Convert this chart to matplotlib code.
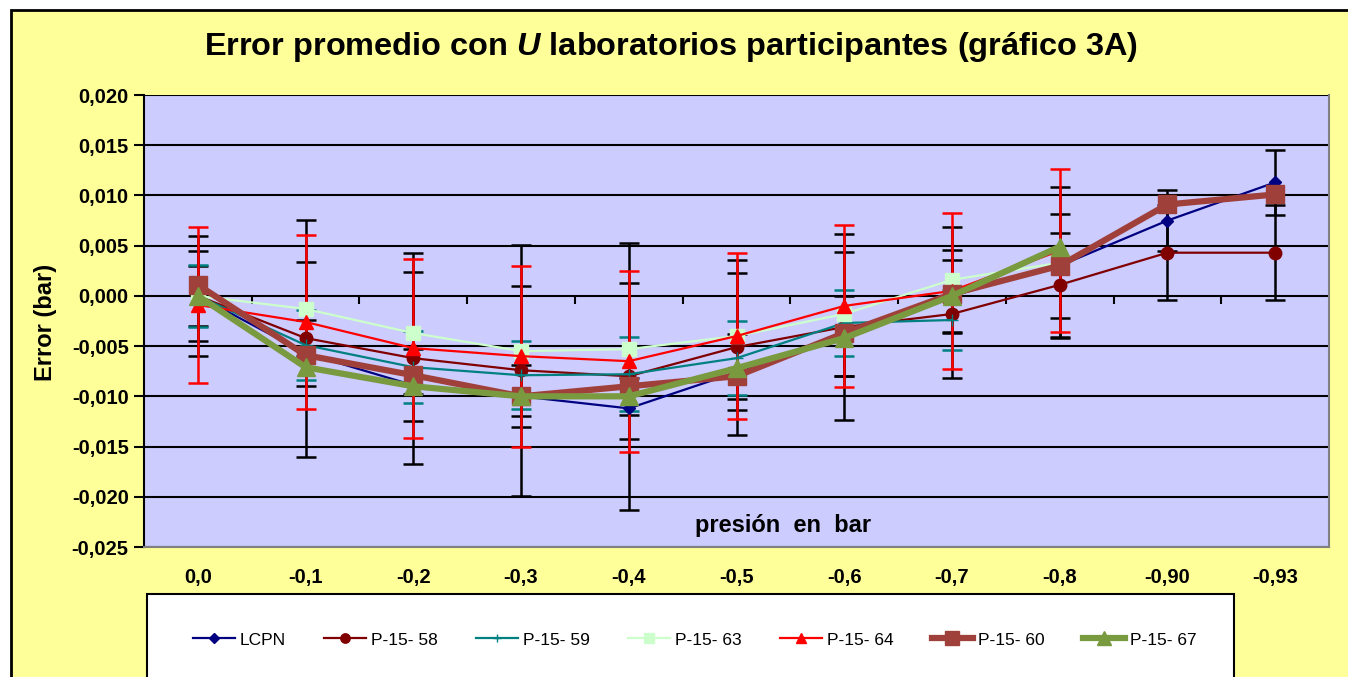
import numpy as np
import matplotlib
matplotlib.use("Agg")
import matplotlib.pyplot as plt
from matplotlib.patches import Rectangle

plt.rcParams['font.family'] = ['Liberation Sans', 'DejaVu Sans']
plt.rcParams['mathtext.fontset'] = 'custom'
plt.rcParams['mathtext.it'] = 'Liberation Sans:italic:bold'
plt.rcParams['mathtext.rm'] = 'Liberation Sans:bold'

# presion (bar) categories
cats = ['0,0', '-0,1', '-0,2', '-0,3', '-0,4', '-0,5', '-0,6', '-0,7', '-0,8', '-0,90', '-0,93']

# error medio por laboratorio (bar) y su incertidumbre U
lcpn = [0.0, -0.0057, -0.0089, -0.0100, -0.0112, -0.0076, -0.0040, 0.0000, 0.0030, 0.0075, 0.0113]
lcpn_u = [0.0030, 0.0033, 0.0036, 0.0031, 0.0030, 0.0038, 0.0040, 0.0036, 0.0052, 0.0030, 0.0032]
p58 = [0.0, -0.0042, -0.0062, -0.0074, -0.0080, -0.0051, -0.0031, -0.0018, 0.0011, 0.0043, 0.0043]
p58_u = [0.0060, 0.0118, 0.0105, 0.0125, 0.0133, 0.0087, 0.0093, 0.0064, 0.0052, 0.0047, 0.0047]
p59 = [0.0, -0.0049, -0.0071, -0.0079, -0.0078, -0.0062, -0.0027, -0.0024]
p59_u = [0.0031, 0.0035, 0.0036, 0.0034, 0.0037, 0.0037, 0.0033, 0.0030]
p63 = [0.0, -0.0013, -0.0037, -0.0055, -0.0053, -0.0040, -0.0018, 0.0016, 0.0033]
p63_u = [0.0045, 0.0047, 0.0061, 0.0065, 0.0066, 0.0063, 0.0062, 0.0053, 0.0075]
p64 = [-0.0009, -0.0026, -0.0052, -0.0060, -0.0065, -0.0040, -0.0010, 0.0005, 0.0045]
p64_u = [0.0078, 0.0087, 0.0089, 0.0090, 0.0090, 0.0083, 0.0081, 0.0078, 0.0081]
p60 = [0.0011, -0.0059, -0.0079, -0.0100, -0.0090, -0.0080, -0.0037, 0.0002, 0.0030, 0.0091, 0.0101]
p67 = [0.0, -0.0071, -0.0090, -0.0100, -0.0100, -0.0072, -0.0042, 0.0000, 0.0049]

fig = plt.figure(figsize=(13.48, 6.77), dpi=100)
fig.patch.set_facecolor('white')
# marco amarillo
fig.patches.append(Rectangle((11/1348, -0.1), 1.2, 1.1 - 10/677, transform=fig.transFigure,
                             facecolor='#FFFF99', edgecolor='black', lw=2, zorder=-10))
# caja de la leyenda
fig.patches.append(Rectangle((147/1348, -0.1), (1234 - 147)/1348, 0.1 + 1 - 594/677, transform=fig.transFigure,
                             facecolor='white', edgecolor='black', lw=1.5, zorder=-5))

ax = fig.add_axes([144/1348, 1 - 547/677, (1329 - 144)/1348, (547 - 95)/677])
ax.set_facecolor('#CCCCFF')

x = np.arange(len(cats))
ek = dict(capsize=7, elinewidth=1.8, capthick=1.8)

def serie(y, u, color, ecolor, marker, ms, lw, label):
    xs = x[:len(y)]
    if u is not None:
        ax.errorbar(xs, y, yerr=u, fmt='none', ecolor=ecolor, zorder=3, **ek)
    ax.plot(xs, y, color=color, marker=marker, markersize=ms, lw=lw, label=label,
            markeredgecolor=color, zorder=4)

serie(lcpn, lcpn_u, '#000080', 'black', 'D', 6.5, 1.6, 'LCPN')
serie(p58, p58_u, '#800000', 'black', 'o', 9, 1.6, 'P-15- 58')
serie(p59, p59_u, '#008080', '#008080', '+', 8, 1.6, 'P-15- 59')
serie(p63, p63_u, '#CCFFCC', 'black', 's', 9.5, 1.6, 'P-15- 63')
serie(p64, p64_u, '#FF0000', '#FF0000', '^', 10, 1.6, 'P-15- 64')
serie(p60, None, '#A0403A', None, 's', 13, 4.5, 'P-15- 60')
serie(p67, None, '#7A9A40', None, '^', 13, 4.5, 'P-15- 67')

ax.set_xlim(-0.5, len(cats) - 0.5)
ax.set_ylim(-0.025, 0.020)
yt = np.arange(-0.025, 0.0201, 0.005)
ax.set_yticks(yt)
ax.set_yticklabels([('%.3f' % v).replace('.', ',').replace('-0,000', '0,000') for v in yt],
                   fontsize=14.5, fontweight='bold')
ax.set_xticks(x)
ax.set_xticklabels(cats, fontsize=14.5, fontweight='bold')
ax.tick_params(axis='x', length=0, pad=15)
ax.tick_params(axis='y', length=7, width=1.5, direction='out', pad=4)
ax.grid(axis='y', color='black', lw=1.5, zorder=1)
ax.set_axisbelow(True)
# marcas de categoria sobre el eje en cero
ax.vlines(x[:-1] + 0.5, -0.0008, 0, color='black', lw=1.5, zorder=2)

for s in ['top', 'right', 'bottom']:
    ax.spines[s].set_color('#808080')
    ax.spines[s].set_linewidth(1.5)
ax.spines['top'].set_visible(False)
ax.spines['left'].set_color('black')
ax.spines['left'].set_linewidth(1.5)

ax.text(0.539, 0.048, 'presión  en  bar', transform=ax.transAxes, ha='center', va='center',
        fontsize=17, fontweight='bold')
fig.text(0.034, 0.524, 'Error (bar)', rotation=90, ha='center', va='center',
         fontsize=17, fontweight='bold')
fig.text(0.498, 0.931, r'Error promedio con $U$ laboratorios participantes (gráfico 3A)',
         ha='center', va='center', fontsize=23.4, fontweight='bold')

fig.legend(loc='center', bbox_to_anchor=(695/1348, 1 - 640/677), ncol=7, frameon=False,
           fontsize=12.5, handlelength=2.4, handletextpad=0.3, columnspacing=2.2, markerscale=0.75)

fig.savefig('out.png', dpi=100, facecolor=fig.get_facecolor())
